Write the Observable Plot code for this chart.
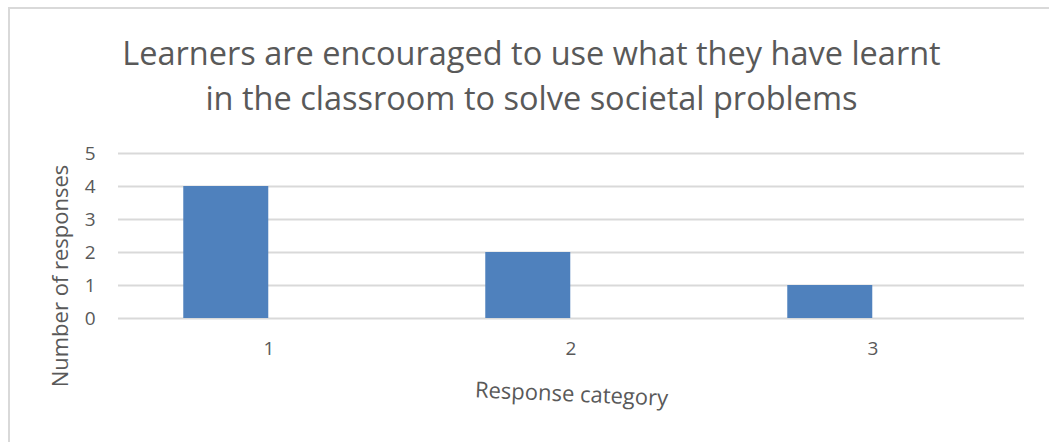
<!DOCTYPE html>
<html>
<head>
<meta charset="utf-8">
<script src="https://cdn.jsdelivr.net/npm/d3@7"></script>
<script src="https://cdn.jsdelivr.net/npm/@observablehq/plot@0.6"></script>
<style>
  html, body { margin: 0; padding: 0; background: #ffffff; }
  #wrap { position: relative; width: 1049px; height: 442px; overflow: hidden; }
  #border { position: absolute; left: 8px; top: 7px; width: 1100px; height: 500px;
            border-top: 2px solid #d9d9d9; border-left: 2px solid #d9d9d9; box-sizing: border-box; }
  #chart { position: absolute; left: 0; top: 0; }
  #chart svg g[aria-label="x-axis tick label"], #chart svg g[aria-label="y-axis tick label"] { font-size: 19px; }
</style>
</head>
<body>
<div id="wrap"><div id="border"></div><div id="chart"></div></div>
<script>
const categories = ["1", "2", "3"];
const responses = [4, 2, 1];
const yTicks = [0, 1, 2, 3, 4, 5];
const titleText = "Learners are encouraged to use what they have learnt\nin the classroom to solve societal problems";
const xTitle = "Response category";
const yTitle = "Number of responses";

const data = categories.map((c, i) => ({category: c, value: responses[i]}));

const textColor = "#595959";
const font = "'Open Sans', Lato, sans-serif";
const pad = 0.717;
const width = 1049, marginLeft = 118, marginRight = 25;
const step = (width - marginLeft - marginRight) / categories.length;
const bw = step * (1 - pad);

const chart = Plot.plot({
  width: 1049,
  height: 442,
  marginLeft,
  marginRight,
  marginTop: 153,
  marginBottom: 124,
  style: {fontFamily: font, fontSize: "19px", background: "transparent", color: textColor},
  x: {type: "band", domain: categories, paddingInner: pad, paddingOuter: pad / 2, label: null},
  y: {domain: [0, 5], label: null},
  marks: [
    Plot.gridY(yTicks, {stroke: "#d9d9d9", strokeOpacity: 1, strokeWidth: 2}),
    Plot.barY(data, {x: "category", y: "value", fill: "#4f81bd", dx: -bw / 2}),
    Plot.axisY({ticks: yTicks, tickFormat: d3.format("d"), tickSize: 0, tickPadding: 23, fontSize: 19, fill: textColor, label: null}),
    Plot.axisX({tickSize: 0, tickPadding: 23, fontSize: 19, fill: textColor, label: null}),
    Plot.text([titleText], {frameAnchor: "top", lineAnchor: "bottom", dx: -40, dy: -44,
      fontSize: 32.5, lineHeight: 1.385, fill: textColor}),
    Plot.text([xTitle], {frameAnchor: "bottom", textAnchor: "middle", lineAnchor: "middle", rotate: 2.5, dy: 76, fontSize: 22, fill: textColor}),
    Plot.text([yTitle], {frameAnchor: "left", textAnchor: "middle", lineAnchor: "middle", rotate: -90, dx: -58, dy: 40, fontSize: 22, fill: textColor})
  ]
});
document.getElementById("chart").appendChild(chart);
</script>
</body>
</html>
